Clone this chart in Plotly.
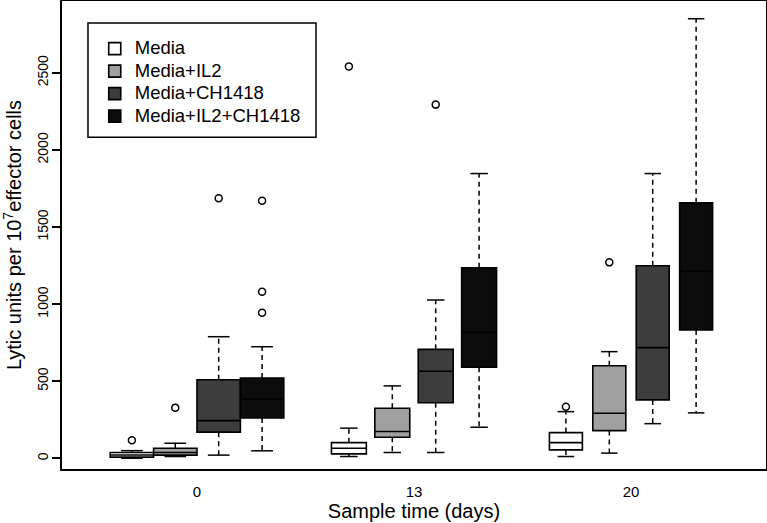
import plotly.graph_objects as go

# ---- data ----
days = ["0", "13", "20"]
day_pos = [1, 2, 3]
groups = ["Media", "Media+IL2", "Media+CH1418", "Media+IL2+CH1418"]
fills = ["#ffffff", "#a0a0a0", "#3d3d3d", "#0c0c0c"]
offsets = [-0.3, -0.1, 0.1, 0.3]
box_widths = [0.2, 0.161, 0.152]  # varwidth-style box widths per day

# stats per group, per day
q1 = {
    "Media": [8, 29, 55],
    "Media+IL2": [21, 137, 180],
    "Media+CH1418": [170, 361, 379],
    "Media+IL2+CH1418": [262, 591, 832],
}
median = {
    "Media": [22, 66, 102],
    "Media+IL2": [38, 174, 293],
    "Media+CH1418": [245, 565, 718],
    "Media+IL2+CH1418": [383, 817, 1216],
}
q3 = {
    "Media": [38, 102, 167],
    "Media+IL2": [66, 325, 601],
    "Media+CH1418": [510, 707, 1249],
    "Media+IL2+CH1418": [521, 1236, 1657],
}
lower = {
    "Media": [1, 12, 12],
    "Media+IL2": [12, 38, 34],
    "Media+CH1418": [21, 38, 225],
    "Media+IL2+CH1418": [49, 202, 295],
}
upper = {
    "Media": [50, 196, 303],
    "Media+IL2": [98, 470, 692],
    "Media+CH1418": [789, 1027, 1847],
    "Media+IL2+CH1418": [724, 1847, 2851],
}
outliers = {
    "Media": [[118], [2542], [335]],
    "Media+IL2": [[329], [], [1271]],
    "Media+CH1418": [[1687], [2294], []],
    "Media+IL2+CH1418": [[1670, 1080, 944], [], []],
}

FONT = "Liberation Sans, Arial, sans-serif"
fig = go.Figure()

for gi, g in enumerate(groups):
    for di in range(len(days)):
        x = day_pos[di] + offsets[gi]
        w = box_widths[di]
        # dashed whiskers
        fig.add_trace(go.Scatter(
            x=[x, x, None, x, x],
            y=[q3[g][di], upper[g][di], None, q1[g][di], lower[g][di]],
            mode="lines", line=dict(color="black", width=1.5, dash="5px,4px"),
            showlegend=False, hoverinfo="skip"))
        # whisker caps
        fig.add_trace(go.Scatter(
            x=[x - w / 4, x + w / 4, None, x - w / 4, x + w / 4],
            y=[upper[g][di], upper[g][di], None, lower[g][di], lower[g][di]],
            mode="lines", line=dict(color="black", width=1.5),
            showlegend=False, hoverinfo="skip"))
        # box
        fig.add_trace(go.Box(
            x=[x], q1=[q1[g][di]], median=[median[g][di]], q3=[q3[g][di]],
            lowerfence=[q1[g][di]], upperfence=[q3[g][di]],
            width=w, whiskerwidth=0,
            fillcolor=fills[gi], line=dict(color="black", width=1.6),
            name='<span style="font-size:18.5px">%s</span>' % g,
            legendgroup=g, showlegend=(di == 0),
            boxpoints=False))
        # outliers
        if outliers[g][di]:
            fig.add_trace(go.Scatter(
                x=[x] * len(outliers[g][di]), y=outliers[g][di],
                mode="markers",
                marker=dict(symbol="circle-open", size=7, color="black",
                            line=dict(width=1.5)),
                showlegend=False, hoverinfo="skip"))

fig.update_layout(
    width=767, height=523,
    margin=dict(l=62, r=1, t=1, b=54),
    paper_bgcolor="white", plot_bgcolor="white",
    font=dict(family=FONT, color="black", size=14),
    showlegend=True,
    legend=dict(
        x=0.0465, y=0.933, xanchor="left", yanchor="top",
        borderwidth=0, bgcolor="rgba(0,0,0,0)",
        font=dict(size=15, family=FONT),
        tracegroupgap=0, traceorder="normal",
    ),
    boxmode="overlay",
    shapes=[dict(
        type="rect", xref="paper", yref="paper",
        x0=0.0369, x1=0.3608, y0=0.709, y1=0.953,
        line=dict(color="black", width=1.5), fillcolor="rgba(0,0,0,0)",
    )],
)
fig.update_xaxes(
    range=[0.378, 3.622], tickvals=day_pos, ticktext=days,
    showline=True, mirror=True, linecolor="black", linewidth=2,
    ticks="", showgrid=False, zeroline=False, automargin=False,
    tickfont=dict(size=15), ticklabelstandoff=8,
    title=dict(text="Sample time (days)", font=dict(size=20), standoff=0),
)
fig.update_yaxes(
    range=[-69, 2966], tickvals=[0, 500, 1000, 1500, 2000, 2500],
    showline=True, mirror=True, linecolor="black", linewidth=2,
    ticks="outside", ticklen=8, tickwidth=1.5, tickcolor="black",
    showgrid=False, zeroline=False, automargin=False,
    tickangle=-90, tickfont=dict(size=14), ticklabelstandoff=-2,
    title=dict(text="Lytic units per 10<sup>7</sup>effector cells",
               font=dict(size=20), standoff=8),
)

fig.write_html(
    "out.html",
    config={"displayModeBar": False},
    post_script="document.body.style.margin='0';document.body.style.padding='0';",
)
